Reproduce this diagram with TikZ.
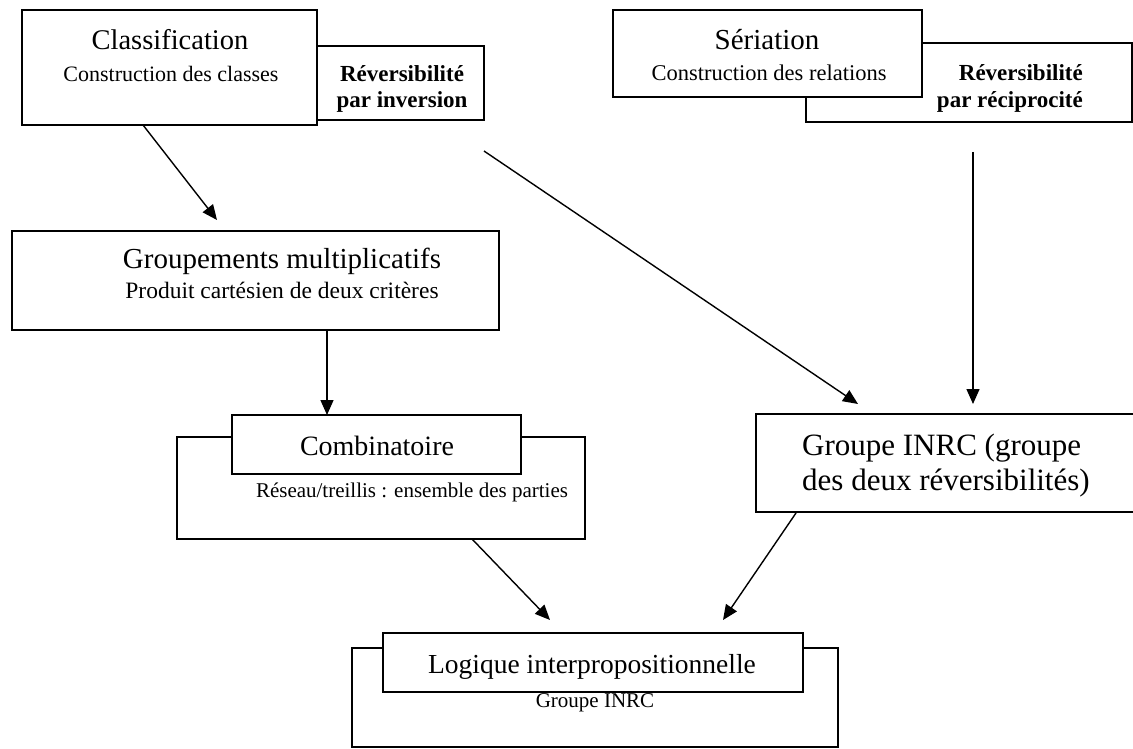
\documentclass[tikz,border=0pt]{standalone}
\usepackage{fontspec}
\setmainfont{Liberation Serif}
\usetikzlibrary{arrows.meta}
\newcommand{\fsz}[1]{\fontsize{#1}{#1}\selectfont}
\newcommand{\boxnode}[6][]{%
  \node[box,#1,minimum width={#4-#2},minimum height={#5-#3}] (#6) at ({(#2+#4)/2},{(#3+#5)/2}) {};}
\begin{document}
\begin{tikzpicture}[x=1pt,y=-1pt,
  box/.style={draw,fill=white,line width=1.6pt,inner sep=0pt,outer sep=0pt},
  txt/.style={inner sep=0pt,anchor=base},
  arr/.style={line width=1.4pt,-{Triangle[length=15pt,width=13pt]}}]
\useasboundingbox (0,0) rectangle (1133,749);
\clip (0,0) rectangle (1133,749);
% top left
\boxnode{317}{46}{484}{120}{revinv}
\boxnode{22}{10}{317}{125}{clas}
\node[txt] (clasT) at (170,50) {\fsz{28.5}Classification};
\node[txt] (clasS) at (171,82) {\fsz{22}Construction des classes};
\node[txt] (revinvA) at (402,82) {\fsz{23}\bfseries Réversibilité};
\node[txt] (revinvB) at (402,108) {\fsz{23}\bfseries par inversion};
% top right
\boxnode{806}{43}{1132}{122}{revrec}
\boxnode{613}{10}{922}{97}{seri}
\node[txt] (seriT) at (767,50) {\fsz{29}Sériation};
\node[txt] (seriS) at (769,81) {\fsz{22.5}Construction des relations};
\node[txt,anchor=base east] (revrecA) at (1083,81) {\fsz{23}\bfseries Réversibilité};
\node[txt,anchor=base east] (revrecB) at (1083,108) {\fsz{23}\bfseries par réciprocité};
% groupements
\boxnode{12}{231}{499}{330}{grp}
\node[txt] (grpT) at (282,268) {\fsz{29}Groupements multiplicatifs};
\node[txt] (grpS) at (282,298) {\fsz{23.5}Produit cartésien de deux critères};
% combinatoire
\boxnode{177}{437}{585}{539}{combO}
\boxnode{232}{415}{521}{474}{combI}
\node[txt] (combT) at (377,455) {\fsz{28}Combinatoire};
\node[txt] (combS) at (412,497) {\fsz{21}Réseau/treillis : ensemble des parties};
% INRC
\boxnode{756}{414}{1150}{512}{inrc}
\node[txt,anchor=base west] (inrcA) at (802,455) {\fsz{31}Groupe INRC (groupe};
\node[txt,anchor=base west] (inrcB) at (802,490) {\fsz{31}des deux réversibilités)};
% logique
\boxnode{352}{648}{838}{747}{logO}
\boxnode{383}{633}{803}{692}{logI}
\node[txt] (logT) at (592,673) {\fsz{27.5}Logique interpropositionnelle};
\node[txt] (logS) at (595,707) {\fsz{21}Groupe INRC};
% arrow ends
\coordinate (a1s) at (143,125); \coordinate (a1e) at (217,220);
\coordinate (a2s) at (484,151); \coordinate (a2e) at (858,404);
\coordinate (a3s) at (973,152); \coordinate (a3e) at (973,404);
\coordinate (a4s) at (327,330); \coordinate (a4e) at (327,415);
\coordinate (a5s) at (472,539); \coordinate (a5e) at (550,620);
\coordinate (a6s) at (796,513); \coordinate (a6e) at (723,620);
\draw[arr] (a1s) -- (a1e);
\draw[arr] (a2s) -- (a2e);
\draw[arr] (a3s) -- (a3e);
\draw[arr] (a4s) -- (a4e);
\draw[arr] (a5s) -- (a5e);
\draw[arr] (a6s) -- (a6e);
\end{tikzpicture}
\end{document}
